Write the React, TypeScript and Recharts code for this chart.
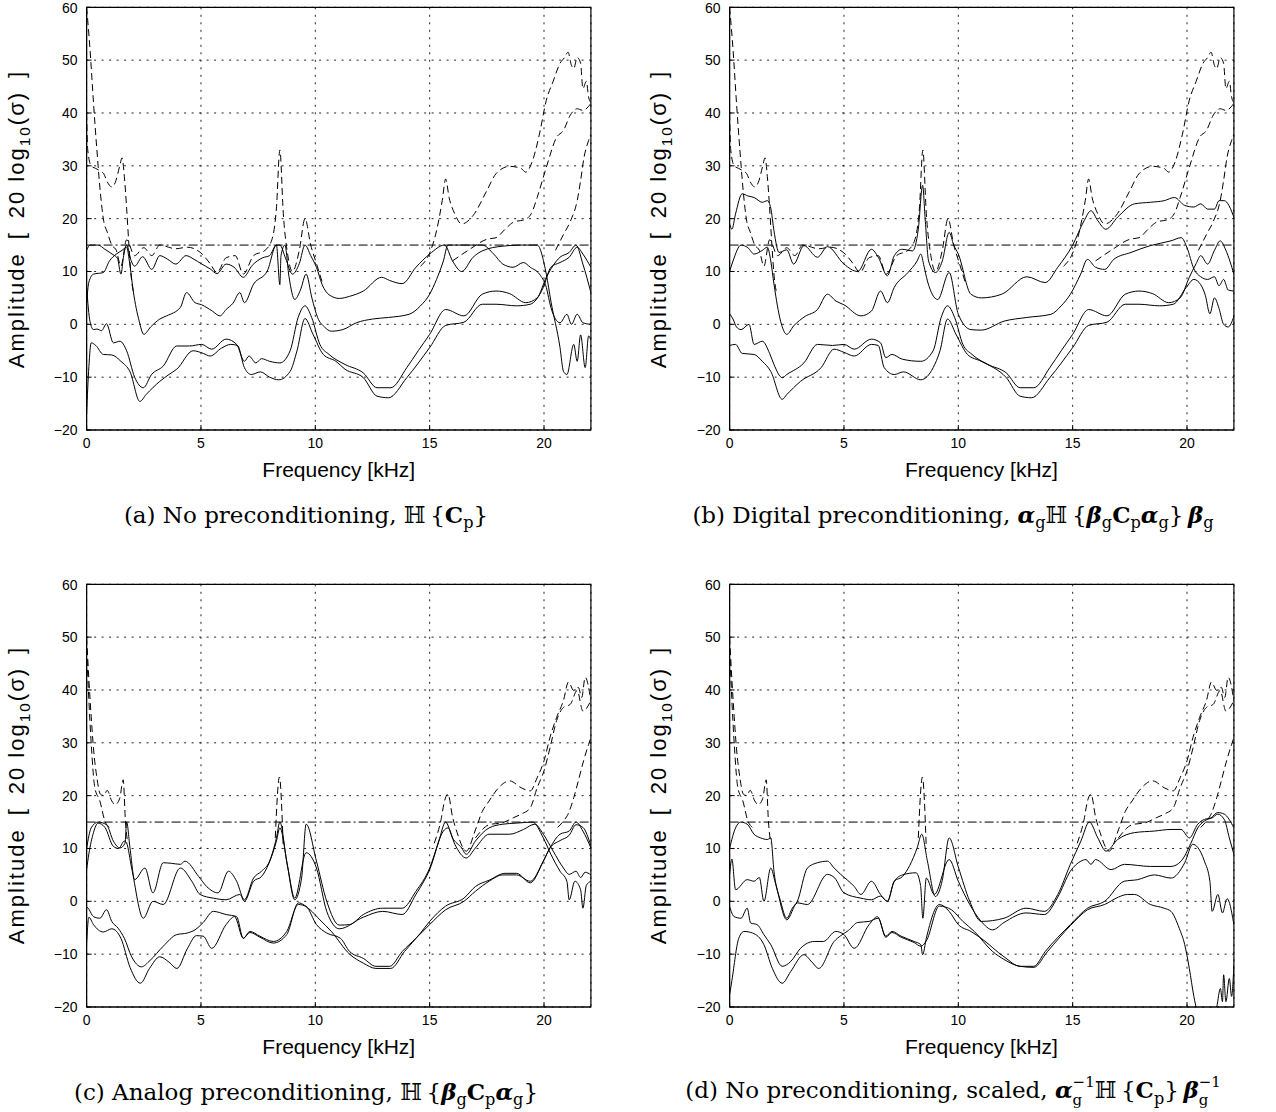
import React from 'react';
import {
  LineChart,
  Line,
  XAxis,
  YAxis,
  CartesianGrid,
  ReferenceLine,
  ReferenceArea,
} from 'recharts';

// frequency axis in kHz, amplitude in dB (20 log10 of singular values)
const X_TICKS = [0, 5, 10, 15, 20];
const Y_TICKS = [-20, -10, 0, 10, 20, 30, 40, 50, 60];
const X_MAX = 22.05;
const REG_LEVEL = 15;

// ---- (a) no preconditioning, regularised (solid) ----
const aSolid1 = [[0,14],[0.15,15],[0.5,15],[0.8,14.2],[1.15,13.2],[1.35,12.5],[1.5,9.5],[1.62,13],[1.75,15],[1.95,12],[2.1,11],[2.45,12.8],[2.85,10.4],[3.2,13],[3.55,12.3],[3.9,11.4],[4.35,13],[4.7,12.3],[5.0,11.5],[5.4,10.5],[5.7,9.6],[6.1,11.4],[6.45,10.8],[6.85,8.9],[7.25,11.2],[7.7,12.6],[8.0,13],[8.3,15],[8.45,15],[8.7,12.5],[9.0,9.5],[9.3,11.5],[9.55,15],[9.8,13],[10.05,10.8],[10.3,7.5],[10.6,5.6],[11.05,4.9],[11.5,5.3],[12.1,6.3],[12.9,8.9],[13.25,8.3],[13.8,7.7],[14.4,10.8],[15.0,13.3],[15.65,15],[16.0,12],[16.4,10],[16.9,12.7],[17.3,13.9],[18.2,14.8],[19.0,15],[19.7,15],[20.1,9.5],[20.3,4.4],[20.7,-4.4],[20.85,-8.9],[21.0,-9.5],[21.3,-3.8],[21.45,-7],[21.6,-2],[21.8,-8.2],[21.95,-2.2],[22.05,-3]];
const aSolid2 = [[0,4],[0.1,8],[0.3,9.5],[0.73,9.8],[1.0,12],[1.3,13.3],[1.55,14],[1.75,14.6],[1.9,11],[2.04,6.3],[2.3,0.6],[2.5,-1.9],[2.8,-0.5],[3.2,1],[3.5,1.6],[4.1,3.2],[4.37,6],[4.74,4.1],[5.03,3.7],[5.5,2.5],[5.83,1.6],[6.1,2.8],[6.4,4],[6.7,6],[6.9,4.1],[7.3,7.6],[7.9,10.1],[8.3,15],[8.45,7.5],[8.5,13],[8.67,15],[8.85,9],[9.1,4.7],[9.35,6.5],[9.6,9.5],[9.85,5],[10.1,1.3],[10.4,-0.5],[10.7,-1.3],[11.2,-1],[11.8,0.3],[12.5,1],[13.2,1.3],[14.1,1.9],[14.6,3.5],[15.0,5.7],[15.3,8.5],[15.6,12],[15.8,15],[16.5,15],[17.3,15],[17.8,13.3],[18.2,11.4],[18.65,10.8],[19.1,11.7],[19.4,10.8],[19.8,9.5],[20.1,7],[20.3,3.2],[20.7,0.3],[21.0,1.9],[21.2,0],[21.45,1.9],[21.7,0.3],[22.05,0]];
const aSolid3 = [[0,7],[0.15,0.5],[0.3,-1],[0.45,-0.9],[0.65,-1.2],[0.87,0.1],[1.17,-3.5],[1.46,-3.2],[1.75,-5],[2.1,-10],[2.48,-12],[2.84,-9.5],[3.35,-7.9],[3.94,-4.1],[4.5,-4.1],[5.03,-3.8],[5.47,-4.7],[6.1,-2.8],[6.56,-3.8],[6.9,-7],[7.1,-6],[7.4,-7.3],[7.65,-6.5],[8.0,-7],[8.45,-7.3],[8.9,-5],[9.25,1.3],[9.55,3.5],[9.84,1.3],[10.2,-3.8],[10.6,-5.7],[11.3,-7.6],[12.1,-9.2],[12.7,-12],[13.3,-12],[14.0,-8.2],[14.5,-5],[15.0,-1.9],[15.7,2.8],[16.5,1.6],[17.3,5.7],[17.9,6.3],[18.5,5.8],[19.2,4.1],[19.7,5],[20.1,8.9],[20.7,12.7],[21.1,13.6],[21.4,15],[21.7,11.4],[22.05,6]];
const aSolid4 = [[0,-17],[0.1,-8],[0.2,-3.5],[0.4,-4],[0.73,-5.7],[1.1,-5.8],[1.5,-7],[1.9,-9],[2.33,-14.6],[2.6,-13.3],[3.2,-10.8],[3.6,-9.5],[3.94,-8.5],[4.66,-5],[5.1,-5.5],[5.4,-6],[5.9,-4.5],[6.3,-3.8],[6.6,-4],[6.9,-8.2],[7.2,-9.5],[7.6,-9],[8.0,-10],[8.4,-10.5],[8.9,-8.9],[9.2,-5],[9.55,1.1],[9.9,-1.9],[10.35,-5.7],[10.9,-7],[11.3,-8.5],[12.1,-10.1],[12.7,-13.6],[13.2,-13.9],[14.0,-10.1],[15.0,-4.4],[15.7,-0.2],[16.5,0.4],[17.3,3.8],[17.9,3.8],[18.8,3.5],[19.4,3.8],[19.97,7],[20.3,10.8],[20.7,11.7],[21.1,12.7],[21.45,14.6],[21.7,13.3],[22.05,10.8]];

// ---- (b) digital preconditioning (solid) ----
const bSolid1 = [[0,19],[0.1,18],[0.26,20.9],[0.55,24.7],[0.8,24.3],[1.07,24],[1.43,23.1],[1.65,23.4],[1.8,22],[1.94,17.7],[2.16,13.6],[2.5,14.1],[2.8,11.4],[3.25,14.9],[3.84,12.7],[4.28,14.7],[5.0,11.4],[5.6,10],[6.2,14.2],[6.5,12.7],[6.9,9.2],[7.2,13],[7.55,14.2],[8.0,13.9],[8.25,18],[8.44,26.3],[8.55,20],[8.7,12],[9.0,9.8],[9.3,12],[9.6,17.4],[9.8,15],[10.0,13.3],[10.55,5.7],[11.0,5],[11.9,5.7],[13.0,9],[13.8,7.9],[14.35,10.8],[15.0,15],[15.5,19.6],[15.8,21.5],[16.1,19.6],[16.45,18],[16.97,20.3],[17.7,22.8],[18.4,23.1],[19.0,23.4],[19.45,24],[19.9,22.5],[20.3,22.2],[20.6,22.8],[20.9,21.8],[21.2,21.8],[21.4,23.4],[21.63,23.4],[22.05,20.3]];
const bSolid2 = [[0,10],[0.15,12],[0.5,15],[0.8,14.5],[1.07,13.3],[1.43,14],[1.65,14.6],[1.8,12],[1.94,7.6],[2.23,0.6],[2.5,-1.9],[2.8,-0.3],[3.3,1.5],[3.84,2.8],[4.28,5.7],[4.65,4.4],[5.0,3.7],[5.74,1.6],[6.2,2.5],[6.6,6.3],[6.9,4.1],[7.2,7],[7.8,9.8],[8.2,12],[8.36,13.3],[8.5,11],[8.65,8.2],[9.1,4.7],[9.6,9.8],[10.0,1.9],[10.55,-1],[11.0,-1.1],[12.0,0.6],[13.0,1.3],[14.05,1.9],[14.5,3.5],[14.9,5.7],[15.35,9.5],[15.65,12.3],[16.0,10.8],[16.4,10.4],[16.8,12.3],[17.55,13.6],[18.4,14.9],[19.3,15.8],[19.75,16.4],[20.0,14.5],[20.3,10.5],[20.6,9],[20.9,8.5],[21.2,9],[21.4,7.3],[21.6,8.5],[21.8,6.5],[22.05,6.3]];
const bSolid3 = [[0,2],[0.15,1],[0.3,-0.5],[0.5,-1],[0.85,0],[1.07,-3.8],[1.43,-3.2],[1.75,-5.5],[1.94,-7.6],[2.3,-10.1],[2.5,-9.5],[3.25,-7.3],[3.84,-3.8],[4.5,-4],[5.0,-3.8],[5.45,-4.7],[6.2,-2.8],[6.6,-3.5],[6.83,-6.3],[7.1,-5.7],[7.55,-6.6],[8.36,-7],[8.9,-5],[9.25,1.3],[9.53,3.5],[9.84,1.3],[10.2,-3.8],[10.6,-5.7],[11.3,-7.6],[12.1,-9.2],[12.7,-12],[13.3,-12],[14.0,-8.2],[14.5,-5],[15.0,-1.9],[15.7,2.8],[16.5,1.6],[17.3,5.7],[17.9,6.3],[18.5,5.8],[19.2,4.1],[19.7,5],[20.1,8.9],[20.4,11.5],[20.6,13],[20.9,11.4],[21.2,14],[21.45,15.8],[21.7,14],[22.05,9.5]];
const bSolid4 = [[0,-4],[0.26,-3.8],[0.55,-5.5],[1.07,-5.7],[1.43,-7],[1.8,-8.9],[2.3,-14.2],[2.5,-13.3],[3.1,-10.8],[4.0,-8.2],[4.57,-4.7],[5.0,-5.3],[5.45,-6],[6.2,-3.8],[6.5,-4],[6.76,-8.2],[7.2,-9.5],[7.6,-9],[8.36,-10.5],[8.9,-8.2],[9.2,-5],[9.53,1],[9.9,-1.9],[10.4,-5.7],[11.0,-7],[12.1,-10.1],[12.7,-13.6],[13.2,-13.9],[14.0,-10.1],[15.0,-4.4],[15.7,-0.2],[16.5,0.4],[17.3,3.8],[17.9,3.8],[18.8,3.5],[19.4,3.8],[19.97,7],[20.3,8.5],[20.6,7.5],[20.8,5.5],[21.0,2],[21.2,5],[21.4,3],[21.6,0],[21.8,-0.5],[22.05,1.5]];

// ---- (a)/(b) unregularised (dashed), only where they leave the solid curves ----
const abDash1 = [[0,60],[0.15,52],[0.3,42],[0.45,33],[0.6,25],[0.75,19.5],[0.9,17.5],[1.1,15],[1.3,14],[1.5,11],[1.75,16],[2.1,13],[2.5,14.5],[2.85,13],[3.2,15],[3.9,14.3],[4.4,14.6],[5.0,13.5],[5.4,11.5],[5.7,9.8],[6.1,12.6],[6.5,13],[6.85,9.5],[7.3,13],[7.8,14],[8.1,16],[8.3,22],[8.45,33],[8.6,21],[8.8,13],[9.0,10],[9.3,14],[9.55,20],[9.8,15],[10.05,11.5],[10.3,8]];
const abDash2 = [[0,40],[0.05,33],[0.2,30],[0.4,29.5],[0.6,29],[0.75,28.5],[0.9,27],[1.1,26],[1.25,26.8],[1.45,30],[1.55,31.5],[1.65,28],[1.75,22],[1.85,15],[1.95,9],[2.05,6]];
const abDash3 = [[14.6,11],[15.0,13.5],[15.3,17.7],[15.55,23.4],[15.7,27.5],[15.85,24],[16.1,20.9],[16.4,19],[16.9,20.6],[17.5,25.3],[17.9,28.5],[18.5,29.9],[19.0,29.5],[19.2,28.8],[19.5,31],[19.8,36],[20.1,42.4],[20.4,46],[20.7,49.4],[20.9,50.5],[21.05,51.5],[21.2,49],[21.3,48.4],[21.45,50.5],[21.6,49.4],[21.7,44.6],[21.85,46],[21.95,43],[22.05,42]];
const abDash4 = [[16.0,12],[16.75,14.2],[17.5,16.1],[17.9,16.4],[18.3,18],[18.65,19.3],[19.2,19.9],[19.45,21],[19.7,24],[20.1,29.7],[20.55,35.4],[20.85,36.7],[21.15,39.6],[21.45,40.8],[21.7,40.5],[22.05,41.8]];
const abDash5 = [[20.5,14],[20.85,17],[21.15,19.5],[21.45,23.4],[21.6,27.2],[21.75,31.6],[21.95,34.8],[22.05,36]];

// ---- (c) analog preconditioning (solid) ----
const cSolid1 = [[0,10],[0.2,13.9],[0.5,15],[0.87,14.5],[1.17,11.4],[1.46,10.1],[1.68,11],[1.75,15],[1.9,10],[2.1,4.1],[2.55,6.3],[2.9,1.6],[3.35,7.3],[3.7,7.2],[4.1,7],[4.3,7.6],[4.9,4.7],[5.25,2.8],[5.75,1.6],[6.2,5.7],[6.56,3.8],[6.9,0.3],[7.3,4.4],[7.65,5.7],[8.0,7.6],[8.3,12],[8.45,15],[8.75,7.6],[9.1,0.3],[9.4,4.4],[9.6,14.6],[10.05,7.6],[10.5,0],[11.05,-4.5],[11.5,-4.4],[12.1,-2.5],[12.95,-1.3],[13.8,-1.3],[14.4,1.9],[15.0,6.3],[15.4,11.4],[15.7,15],[16.0,12],[16.4,10.1],[16.6,8.9],[17.0,11.4],[17.6,13.9],[18.2,14.6],[18.8,14.8],[19.5,15],[19.97,12],[20.3,8.9],[20.7,5.7],[21.0,3.8],[21.1,0.3],[21.35,3.8],[21.6,2.2],[21.7,-1.3],[21.85,3],[22.05,3.8]];
const cSolid2 = [[0,6],[0.1,9],[0.3,13],[0.5,14.8],[0.8,14],[1.17,10.4],[1.4,10],[1.65,11.4],[1.75,11],[1.97,6.3],[2.48,-3.2],[2.9,0],[3.35,-0.6],[4.1,6.3],[4.6,3.8],[4.96,1.3],[5.54,0.6],[6.1,0.3],[6.7,1.3],[6.9,0],[7.3,3.8],[7.65,4.7],[8.3,11.4],[8.45,13.9],[8.8,6.3],[9.1,0.6],[9.6,9.2],[10.05,6.3],[10.5,-1.9],[11.05,-5.2],[12.1,-3],[12.95,-1.9],[13.8,-2.5],[14.4,1.3],[15.0,6],[15.6,13.3],[15.8,13.9],[16.1,10.8],[16.6,8.2],[17.0,10.1],[17.6,12.7],[18.5,12.7],[19.1,13.6],[19.6,14.6],[19.97,12.7],[20.4,9.5],[20.85,6.3],[21.1,5.1],[21.4,5.7],[21.6,4.5],[21.8,5.5],[22.05,5]];
const cSolid3 = [[0,-1],[0.1,-1.5],[0.3,-2.9],[0.58,-3.2],[0.87,-1.6],[1.1,-3.8],[1.38,-5.1],[1.65,-7],[1.97,-10.5],[2.4,-12.4],[2.77,-11.2],[3.35,-8.5],[3.94,-6.3],[4.4,-6],[4.74,-5.4],[5.1,-4],[5.54,-1.9],[6.1,-2.5],[6.56,-2.9],[6.85,-7],[7.14,-5.7],[7.58,-6.6],[8.16,-7.6],[8.75,-5.7],[9.26,-0.6],[9.6,-1],[10.05,-4.4],[10.5,-6],[11.1,-7],[11.5,-9.5],[12.1,-10.8],[12.65,-12.3],[13.25,-12.3],[13.8,-9.5],[14.4,-7],[15.0,-4.4],[15.7,-1.6],[16.5,0],[17.0,1.9],[17.6,3.8],[18.2,5],[18.8,5],[19.4,3.8],[19.97,7.6],[20.26,10.1],[20.7,12.7],[21.1,13.3],[21.4,15],[21.7,13.3],[22.05,10.1]];
const cSolid4 = [[0,-8],[0.1,-3],[0.3,-4.4],[0.73,-5.8],[1.1,-5.2],[1.5,-7],[1.9,-12.5],[2.35,-15.5],[2.75,-12.7],[3.2,-10.5],[3.6,-11.5],[3.95,-12.7],[4.4,-9],[4.8,-6.5],[5.1,-6.6],[5.47,-8.9],[6.1,-4.4],[6.47,-2.9],[6.85,-7],[7.14,-5.9],[7.58,-6.8],[8.16,-7.9],[8.75,-6.3],[9.26,-0.3],[9.77,-1.6],[10.2,-3.5],[10.7,-5.7],[11.5,-10],[12.1,-11.7],[12.65,-12.7],[13.3,-12.7],[13.9,-9.5],[14.6,-6],[15.0,-3.8],[15.7,-0.9],[16.5,0.6],[17.0,2.8],[17.6,4],[18.3,5.3],[18.8,5.3],[19.4,3.5],[19.97,7.6],[20.26,10.1],[20.7,11.5],[21.1,12.5],[21.4,14.5],[21.7,14],[22.05,10.5]];

// ---- (d) no preconditioning, scaled (solid) ----
const dSolid1 = [[0,10],[0.26,13.9],[0.48,15],[0.77,14.6],[1.07,12.7],[1.36,12],[1.65,11.7],[1.8,12],[1.94,5.7],[2.23,0],[2.5,-3.2],[2.74,-1.3],[2.96,0],[3.4,6.3],[3.84,7.3],[4.28,7.6],[4.57,6.3],[4.86,5.1],[5.45,2.8],[5.74,1.3],[6.2,3.8],[6.6,1.3],[6.9,0],[7.2,3.8],[7.56,4.7],[8.2,10.1],[8.4,12.7],[8.65,7.6],[9.0,0.9],[9.3,4],[9.6,12],[10.0,6.5],[10.5,0],[11.0,-3.8],[12.0,-3.2],[12.96,-1.3],[13.76,-1.9],[14.35,1.3],[14.9,7],[15.36,11.4],[15.73,15],[16.1,12],[16.46,9.5],[16.97,11.7],[17.7,13],[18.57,13.3],[19.3,13.6],[19.74,13.6],[20.1,12],[20.47,14.6],[20.76,15.5],[21.1,15.8],[21.34,16.5],[21.63,15.5],[21.85,12],[22.05,8.9]];
const dSolid2 = [[0,5],[0.1,8],[0.26,2.2],[0.77,4.1],[1.07,3.8],[1.3,4.5],[1.5,0],[1.8,6.3],[2.0,3.5],[2.5,-3.5],[2.96,-0.3],[3.4,-0.6],[4.28,5.1],[4.6,4.4],[5.0,1.6],[5.74,0.6],[6.2,0.3],[6.6,1],[6.9,0],[7.2,3.8],[7.56,5],[8.15,5.4],[8.35,3],[8.45,-3.2],[8.6,4.4],[8.95,1.3],[9.6,7.9],[10.0,3.8],[10.5,-0.6],[11.0,-3.8],[11.5,-5.4],[12.0,-4],[12.96,-2.2],[13.76,-2.5],[14.35,0.8],[14.9,5.7],[15.36,7.6],[15.58,7.9],[15.8,7],[16.0,7.9],[16.68,6],[17.26,7],[18.4,6.6],[19.3,6.6],[19.74,7.6],[20.17,11],[20.47,13.9],[20.76,15.2],[21.05,15.8],[21.34,16.8],[21.63,16.5],[22.05,13.9]];
const dSolid3 = [[0,-1],[0.2,-2.9],[0.5,-3.2],[0.77,-1.3],[0.92,-4.1],[1.2,-4.4],[1.5,-6.3],[1.8,-8.2],[2.3,-12.3],[2.67,-11.4],[3.1,-8.9],[3.7,-7.6],[4.1,-7.6],[4.64,-5.7],[5.0,-6.3],[5.45,-8.9],[6.1,-4.4],[6.47,-2.9],[6.83,-6.6],[7.1,-5.7],[7.5,-6.6],[8.07,-7.6],[8.36,-8.2],[8.44,-10.1],[8.6,-7],[9.17,-0.6],[9.6,-1.9],[10.0,-4.4],[10.55,-5.7],[11.0,-7],[12.0,-10.5],[12.7,-12.3],[13.3,-12.3],[13.8,-9.5],[14.9,-4.4],[15.65,-1.3],[16.4,0],[17.26,3.8],[17.84,4.1],[18.57,5],[19.3,4.4],[19.9,7.3],[20.25,10.8],[20.47,10.2],[20.76,7.6],[21.0,3.8],[21.1,-1.9],[21.35,1.3],[21.55,-2.2],[21.75,0.5],[22.05,-4.4]];
const dSolid4 = [[0,-17.7],[0.1,-15],[0.4,-7],[0.63,-5.7],[1.0,-6],[1.5,-8.2],[1.87,-12.7],[2.3,-15.5],[2.67,-13.3],[3.25,-10.1],[3.6,-11.5],[3.9,-12.7],[4.57,-7.6],[4.86,-6.5],[5.2,-5.5],[5.6,-4],[6.1,-3.8],[6.5,-3.2],[6.83,-6.8],[7.1,-5.9],[7.5,-6.8],[8.07,-7.8],[8.36,-8.5],[8.6,-7.5],[9.17,-0.9],[9.7,-1.6],[10.2,-3.8],[10.7,-5.7],[11.5,-9.5],[12.0,-11],[12.7,-12.3],[13.3,-12.5],[13.9,-9.5],[14.9,-4.6],[15.65,-1.6],[16.4,-0.6],[17.0,0.8],[17.4,1.3],[17.7,1.3],[18.4,-0.6],[19.0,-1.3],[19.3,-1.9],[19.66,-5.1],[19.9,-8.2],[20.1,-12.7],[20.3,-18],[20.45,-21],[20.6,-23],[21.0,-24],[21.3,-20],[21.46,-16.5],[21.55,-19],[21.6,-13.9],[21.7,-19],[21.85,-14.6],[21.95,-18],[22.05,-12]];

// ---- (c)/(d) unregularised (dashed) ----
const cdDash1 = [[0,50],[0.1,42],[0.2,35],[0.3,29],[0.45,23.4],[0.6,20.3],[0.75,20],[0.9,21],[1.1,19],[1.25,18.3],[1.45,19.5],[1.6,23],[1.7,15],[1.8,11]];
const cdDash2 = [[0,48],[0.1,38],[0.2,30],[0.36,21.5],[0.58,19],[0.8,15.2],[1.0,14]];
const cdDash3 = [[8.25,12],[8.43,23.5],[8.6,10]];
const cdDash4 = [[15.2,11],[15.5,15.5],[15.65,19],[15.8,20.3],[16.0,16],[16.2,13],[16.6,9.5],[17.0,13.5],[17.3,17],[17.6,19],[17.9,20.9],[18.5,22.8],[19.0,21.5],[19.4,20.9],[19.7,23.4],[20.0,26.6],[20.26,31],[20.55,34.8],[20.85,38],[21.07,41.5],[21.3,39.9],[21.5,40.5],[21.65,38.6],[21.8,42.4],[22.05,38]];
const cdDash5 = [[17.0,12],[17.6,14.5],[18.2,14.9],[18.65,15.8],[19.0,16.5],[19.4,17.7],[19.7,21.5],[20.0,24.7],[20.26,29],[20.55,34.2],[20.85,36.7],[21.15,37.3],[21.45,39.9],[21.7,36],[22.05,38]];
const cdDash6 = [[20.6,14],[20.85,15.2],[21.05,16.5],[21.3,19.6],[21.5,22.8],[21.73,26.6],[21.95,29.7],[22.05,31]];

const pts = (c: number[][]) => c.map(([x, y]) => ({ x, y }));
const fmtTick = (v: number) => (v < 0 ? '\u2212' + Math.abs(v) : String(v));

// layout (px)
const PLOT_W = 504.3;
const PLOT_H = 422.7;
const Y_AXIS_W = 86.6;
const CHART_W = 600;
const CHART_H = 470;
const SANS = '"Liberation Sans", Arial, Helvetica, sans-serif';
const SERIF = '"DejaVu Serif", "Liberation Serif", serif';

const BI = ({ children }: { children: React.ReactNode }) => (
  <b><i>{children}</i></b>
);
const Sb = ({ children }: { children: React.ReactNode }) => (
  <sub style={{ fontSize: '0.7em', lineHeight: 0 }}>{children}</sub>
);
// "−1" stacked over "g", with a small gap so the two do not touch
const SubSup = () => (
  <span style={{ display: 'inline-flex', flexDirection: 'column', verticalAlign: '0.5em', lineHeight: 1, gap: 3 }}>
    <span style={{ fontSize: '0.65em', lineHeight: 1 }}>{'\u22121'}</span>
    <span style={{ fontSize: '0.65em', lineHeight: 1 }}>g</span>
  </span>
);

const Panel = ({ plotLeft, plotTop, captionX, solids, dashes, caption }: any) => {
  const bottom = plotTop + PLOT_H;
  return (
    <>
      <div style={{ position: 'absolute', left: plotLeft - Y_AXIS_W, top: plotTop - 7.3 }}>
        <LineChart width={CHART_W} height={CHART_H} margin={{ top: 7.3, right: CHART_W - Y_AXIS_W - PLOT_W, bottom: 0, left: 0 }}>
          <CartesianGrid stroke="#222" strokeDasharray="2 5.5" strokeWidth={1} />
          <XAxis type="number" dataKey="x" domain={[0, X_MAX]} ticks={X_TICKS} allowDataOverflow
            height={40} tickSize={-5} tickMargin={13} stroke="#000"
            tick={{ fill: '#000', fontSize: 14, fontFamily: SANS }} />
          <XAxis xAxisId="top" orientation="top" type="number" domain={[0, X_MAX]} ticks={X_TICKS}
            height={0} tickSize={-5} tick={false} stroke="#000" />
          <YAxis type="number" domain={[-20, 60]} ticks={Y_TICKS} allowDataOverflow width={Y_AXIS_W}
            tickSize={-5} tickMargin={14} stroke="#000" tickFormatter={fmtTick}
            tick={{ fill: '#000', fontSize: 14, fontFamily: SANS }} />
          <YAxis yAxisId="right" orientation="right" type="number" domain={[-20, 60]} ticks={Y_TICKS}
            width={0} tickSize={-5} tick={false} stroke="#000" />
          <ReferenceArea x1={0} x2={X_MAX} y1={-20} y2={60} fill="none" stroke="#000" strokeWidth={1.2} />
          <ReferenceLine y={REG_LEVEL} stroke="#000" strokeWidth={1} strokeDasharray="9 3 2 3" />
          {dashes.map((d: number[][], i: number) => (
            <Line key={'d' + i} data={pts(d)} dataKey="y" type="monotone" stroke="#000" strokeWidth={1}
              strokeDasharray="7 4" dot={false} isAnimationActive={false} />
          ))}
          {solids.map((s: number[][], i: number) => (
            <Line key={'s' + i} data={pts(s)} dataKey="y" type="monotone" stroke="#000" strokeWidth={1}
              dot={false} isAnimationActive={false} />
          ))}
        </LineChart>
      </div>
      <div style={{ position: 'absolute', left: plotLeft - 68, top: plotTop + PLOT_H / 2, transform: 'translate(-50%, -50%) rotate(-90deg)', whiteSpace: 'nowrap', fontFamily: SANS, fontSize: 22, letterSpacing: 2 }}>
        Amplitude{'\u2002'}[{'\u2002'}20 log<sub style={{ fontSize: '0.7em' }}>10</sub>(σ){'\u2002'}]
      </div>
      <div style={{ position: 'absolute', left: plotLeft + PLOT_W / 2, top: bottom + 40, transform: 'translate(-50%, -50%)', whiteSpace: 'nowrap', fontFamily: SANS, fontSize: 21 }}>
        Frequency [kHz]
      </div>
      <div style={{ position: 'absolute', left: captionX, top: bottom + 84, transform: 'translate(-50%, -50%)', whiteSpace: 'nowrap', fontFamily: SERIF, fontSize: 23 }}>
        {caption}
      </div>
    </>
  );
};

export default function App() {
  return (
    <div style={{ position: 'absolute', left: 0, top: 0, width: 1276, height: 1112, background: '#fff', overflow: 'hidden' }}>
      <Panel plotLeft={86.6} plotTop={7.3} captionX={306}
        solids={[aSolid1, aSolid2, aSolid3, aSolid4]}
        dashes={[abDash1, abDash2, abDash3, abDash4, abDash5]}
        caption={<>(a) No preconditioning, ℍ{'\u2009'}{'{'}<b>C</b><Sb>p</Sb>{'}'}</>} />
      <Panel plotLeft={729.3} plotTop={7.3} captionX={953}
        solids={[bSolid1, bSolid2, bSolid3, bSolid4]}
        dashes={[abDash1, abDash2, abDash3, abDash4, abDash5]}
        caption={<>(b) Digital preconditioning, <BI>α</BI><Sb>g</Sb>ℍ{'\u2009'}{'{'}<BI>β</BI><Sb>g</Sb><b>C</b><Sb>p</Sb><BI>α</BI><Sb>g</Sb>{'}'}{'\u2009'}<BI>β</BI><Sb>g</Sb></>} />
      <Panel plotLeft={86.6} plotTop={584} captionX={306}
        solids={[cSolid1, cSolid2, cSolid3, cSolid4]}
        dashes={[cdDash1, cdDash2, cdDash3, cdDash4, cdDash5, cdDash6]}
        caption={<>(c) Analog preconditioning, ℍ{'\u2009'}{'{'}<BI>β</BI><Sb>g</Sb><b>C</b><Sb>p</Sb><BI>α</BI><Sb>g</Sb>{'}'}</>} />
      <Panel plotLeft={729.3} plotTop={584} captionX={953}
        solids={[dSolid1, dSolid2, dSolid3, dSolid4]}
        dashes={[cdDash1, cdDash2, cdDash3, cdDash4, cdDash5, cdDash6]}
        caption={<>(d) No preconditioning, scaled, <BI>α</BI><SubSup />ℍ{'\u2009'}{'{'}<b>C</b><Sb>p</Sb>{'}'}{'\u2009'}<BI>β</BI><SubSup /></>} />
    </div>
  );
}
